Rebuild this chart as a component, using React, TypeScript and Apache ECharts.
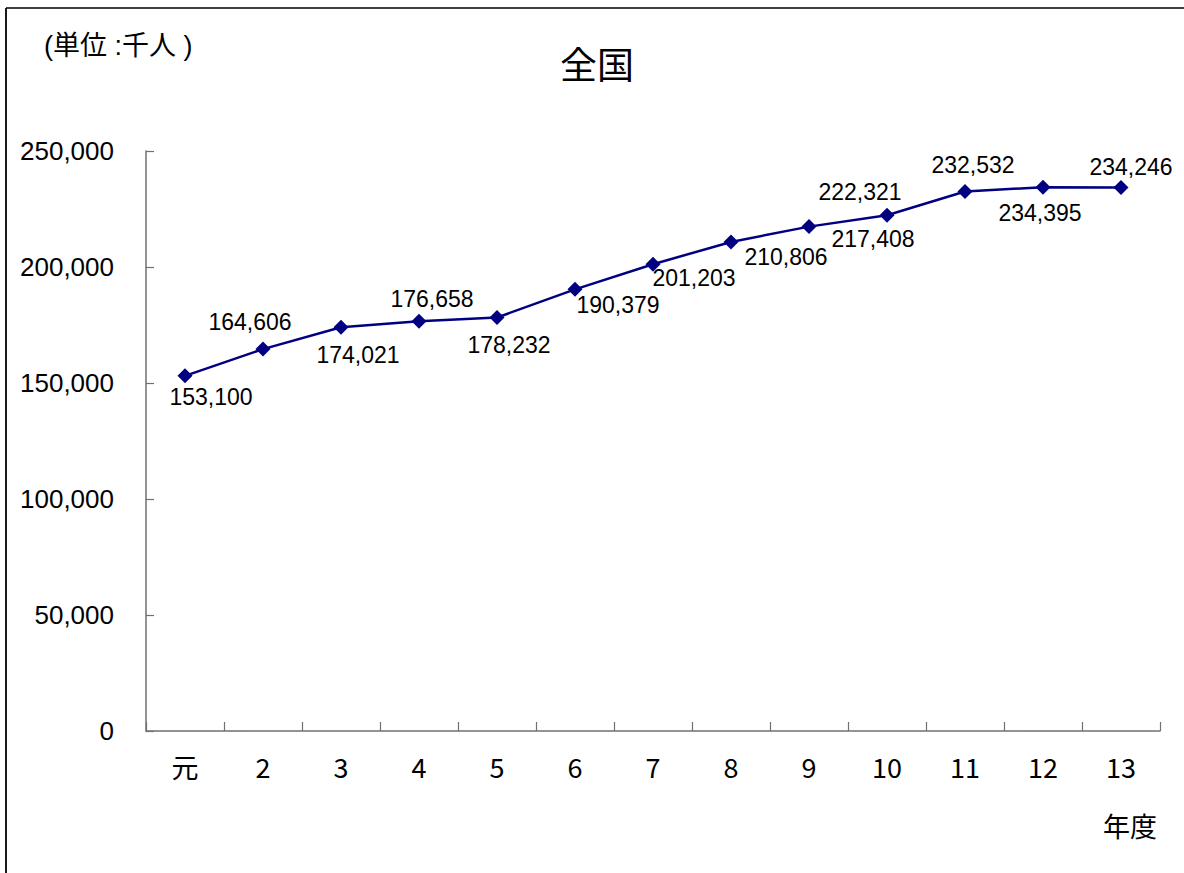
import React, { useEffect, useRef } from "react";
import * as echarts from "echarts";

const categories = ["元", "2", "3", "4", "5", "6", "7", "8", "9", "10", "11", "12", "13"];
const values = [153100, 164606, 174021, 176658, 178232, 190379, 201203, 210806, 217408, 222321, 232532, 234395, 234246];
const labelOffsets: [number, number][] = [
  [26, 21], [-13, -27], [17, 28], [13, -22], [12, 27], [43, 16], [41, 14],
  [55, 15], [64, 12], [-27, -23], [8, -27], [-3, 26], [10, -21],
];
const yTicks = { min: 0, max: 250000, interval: 50000 };
const titleText = "全国";
const unitText = "(単位 :千人 )";
const xName = "年度";

const NUM_FONT = '"Liberation Sans", Arial, "Noto Sans CJK JP", sans-serif';
const CJK_FONT = '"Noto Sans CJK JP", "Liberation Sans", sans-serif';

export default function App() {
  const ref = useRef<HTMLDivElement>(null);
  useEffect(() => {
    if (!ref.current) return;
    const chart = echarts.init(ref.current, undefined, { renderer: "svg" });
    const fmt = (v: number) => v.toLocaleString("en-US");
    chart.setOption({
      animation: false,
      backgroundColor: "#ffffff",
      grid: { left: 146, right: 24, top: 151, bottom: 142, containLabel: false },
      xAxis: {
        type: "category",
        data: categories,
        boundaryGap: true,
        axisLine: { lineStyle: { color: "#707070", width: 1.5 } },
        axisTick: { show: true, inside: true, length: 9, lineStyle: { color: "#707070", width: 1.2 } },
        axisLabel: { color: "#000", fontSize: 27, fontFamily: CJK_FONT, margin: 22 },
        splitLine: { show: false },
      },
      yAxis: {
        type: "value",
        min: yTicks.min,
        max: yTicks.max,
        interval: yTicks.interval,
        axisLine: { show: true, lineStyle: { color: "#707070", width: 1.5 } },
        axisTick: { show: true, inside: true, length: 8, lineStyle: { color: "#707070", width: 1.2 } },
        axisLabel: { color: "#000", fontSize: 26, fontFamily: NUM_FONT, margin: 32, formatter: fmt },
        splitLine: { show: false },
      },
      series: [
        {
          type: "line",
          data: values.map((v, i) => ({
            value: v,
            label: { offset: labelOffsets[i] },
          })),
          symbol: "diamond",
          symbolSize: 15,
          lineStyle: { color: "#000080", width: 2.5 },
          itemStyle: { color: "#000080" },
          label: {
            show: true,
            position: "inside",
            color: "#000",
            fontSize: 23,
            fontFamily: NUM_FONT,
            align: "center",
            verticalAlign: "middle",
            formatter: (p: any) => fmt(p.value),
          },
        },
      ],
      graphic: [
        { type: "line", shape: { x1: 6, y1: 8, x2: 1190, y2: 8 }, style: { stroke: "#000", lineWidth: 1.5 } },
        { type: "line", shape: { x1: 6, y1: 8, x2: 6, y2: 880 }, style: { stroke: "#000", lineWidth: 1.8 } },
        {
          type: "text",
          x: 597,
          y: 63,
          style: { text: titleText, fill: "#000", fontSize: 37, fontFamily: CJK_FONT, align: "center", verticalAlign: "middle" },
        },
        {
          type: "text",
          x: 44,
          y: 46,
          style: { text: unitText, fill: "#000", fontSize: 27, fontFamily: NUM_FONT, align: "left", verticalAlign: "middle" },
        },
        {
          type: "text",
          x: 1103,
          y: 825,
          style: { text: xName, fill: "#000", fontSize: 27, fontFamily: CJK_FONT, align: "left", verticalAlign: "middle" },
        },
      ],
    });
    return () => chart.dispose();
  }, []);
  return (
    <div
      ref={ref}
      style={{ position: "absolute", left: 0, top: 0, width: 1184, height: 873 }}
    />
  );
}
